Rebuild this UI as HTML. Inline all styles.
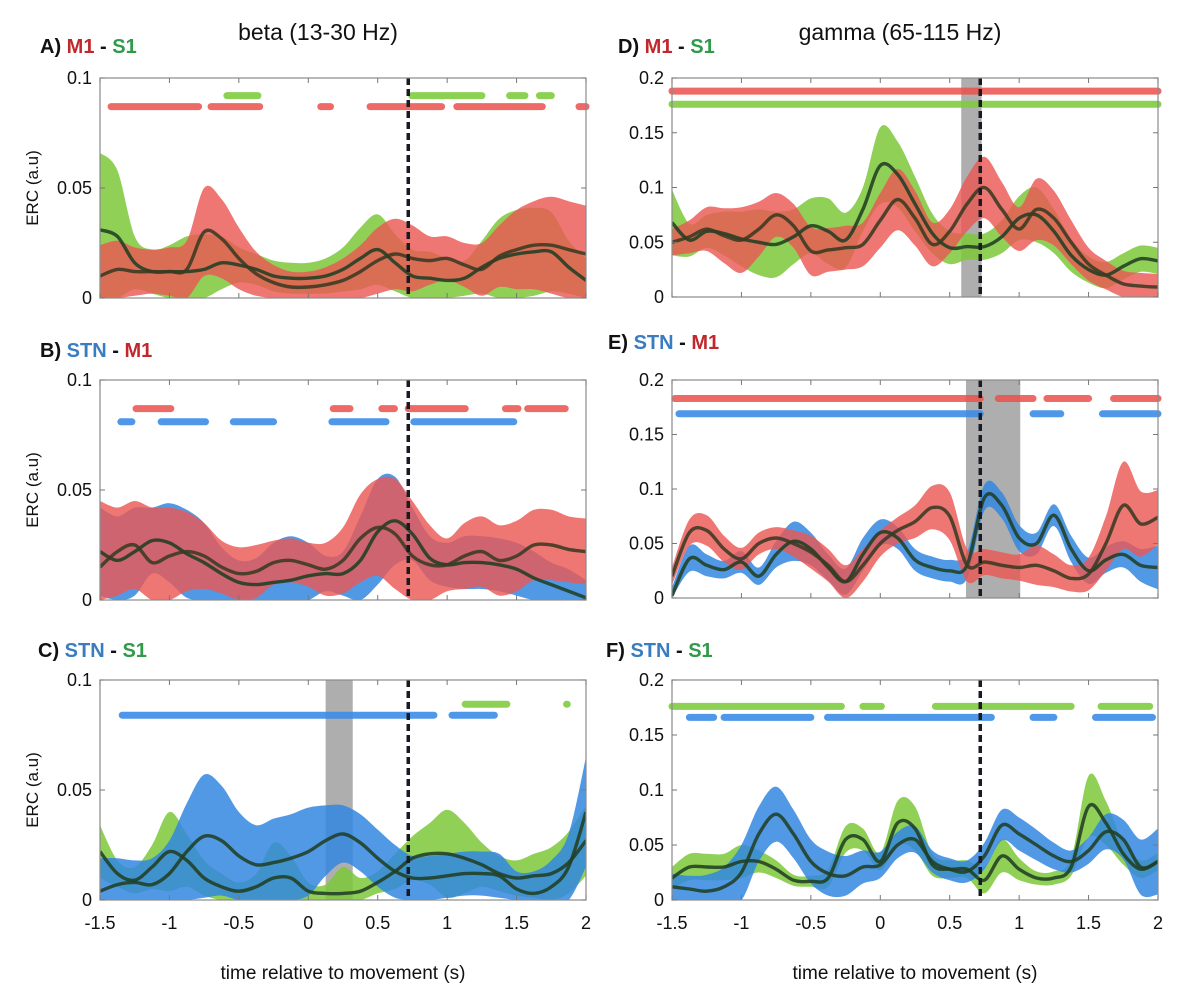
<!DOCTYPE html>
<html><head><meta charset="utf-8">
<style>
body{margin:0;background:#fff;width:1200px;height:999px;overflow:hidden;font-family:"Liberation Sans",sans-serif}
svg text{font-family:"Liberation Sans",sans-serif}
</style></head>
<body>
<svg id="fig" width="1200" height="999" viewBox="0 0 1200 999" xmlns="http://www.w3.org/2000/svg">
<text x="318" y="40" font-size="23" text-anchor="middle" fill="#111">beta (13-30 Hz)</text>
<text x="900" y="40" font-size="23" text-anchor="middle" fill="#111">gamma (65-115 Hz)</text>
<text x="40" y="53" font-size="20" font-weight="bold"><tspan fill="#111">A)  </tspan><tspan fill="#c0282d">M1</tspan><tspan fill="#111"> - </tspan><tspan fill="#2f9a4a">S1</tspan></text>
<text x="40" y="357" font-size="20" font-weight="bold"><tspan fill="#111">B)  </tspan><tspan fill="#3a7cc0">STN</tspan><tspan fill="#111"> - </tspan><tspan fill="#c0282d">M1</tspan></text>
<text x="38" y="657" font-size="20" font-weight="bold"><tspan fill="#111">C)  </tspan><tspan fill="#3a7cc0">STN</tspan><tspan fill="#111"> - </tspan><tspan fill="#2f9a4a">S1</tspan></text>
<text x="618" y="53" font-size="20" font-weight="bold"><tspan fill="#111">D)  </tspan><tspan fill="#c0282d">M1</tspan><tspan fill="#111"> - </tspan><tspan fill="#2f9a4a">S1</tspan></text>
<text x="608" y="349" font-size="20" font-weight="bold"><tspan fill="#111">E)  </tspan><tspan fill="#3a7cc0">STN</tspan><tspan fill="#111"> - </tspan><tspan fill="#c0282d">M1</tspan></text>
<text x="606" y="657" font-size="20" font-weight="bold"><tspan fill="#111">F)  </tspan><tspan fill="#3a7cc0">STN</tspan><tspan fill="#111"> - </tspan><tspan fill="#2f9a4a">S1</tspan></text>
<text x="343" y="979" font-size="19" text-anchor="middle" fill="#111">time relative to movement (s)</text>
<text x="915" y="979" font-size="19" text-anchor="middle" fill="#111">time relative to movement (s)</text>
</svg>
<script>
const times=[-1.5,-1.375,-1.25,-1.125,-1,-0.875,-0.75,-0.625,-0.5,-0.375,-0.25,-0.125,0,0.125,0.25,0.375,0.5,0.625,0.75,0.875,1,1.125,1.25,1.375,1.5,1.625,1.75,1.875,2];
const xTicks=[-1.5,-1,-0.5,0,0.5,1,1.5,2];
const xTickLabels=["-1.5","-1","-0.5","0","0.5","1","1.5","2"];
const betaYTicks=[0,0.05,0.1];
const betaYLabels=["0","0.05","0.1"];
const gammaYTicks=[0,0.05,0.1,0.15,0.2];
const gammaYLabels=["0","0.05","0.1","0.15","0.2"];
const movementTime=0.72;
// Panel A
const aRedMean=[0.010,0.013,0.012,0.012,0.012,0.013,0.030,0.027,0.018,0.011,0.007,0.005,0.005,0.006,0.008,0.012,0.017,0.020,0.018,0.017,0.018,0.015,0.013,0.019,0.022,0.024,0.024,0.022,0.020];
const aRedHalf=[0.014,0.013,0.011,0.010,0.011,0.013,0.020,0.018,0.014,0.010,0.008,0.007,0.007,0.008,0.010,0.012,0.015,0.016,0.015,0.011,0.010,0.010,0.012,0.014,0.018,0.020,0.022,0.022,0.022];
const aGreenMean=[0.031,0.028,0.016,0.012,0.012,0.012,0.013,0.016,0.015,0.013,0.010,0.009,0.009,0.010,0.013,0.018,0.022,0.016,0.010,0.009,0.008,0.009,0.014,0.018,0.020,0.021,0.021,0.014,0.008];
const aGreenHalf=[0.035,0.030,0.012,0.010,0.012,0.016,0.016,0.012,0.008,0.007,0.007,0.007,0.007,0.008,0.010,0.014,0.016,0.013,0.012,0.012,0.010,0.008,0.012,0.018,0.020,0.020,0.018,0.012,0.010];
const aGreenSig=[[-0.586,-0.363],[0.745,1.25],[1.45,1.56],[1.665,1.75]];
const aRedSig=[[-1.42,-0.79],[-0.70,-0.35],[0.09,0.16],[0.445,0.96],[1.07,1.685],[1.95,2.0]];
// Panel B
const bBlueMean=[0.022,0.018,0.022,0.027,0.026,0.021,0.017,0.012,0.008,0.007,0.008,0.009,0.011,0.012,0.012,0.018,0.031,0.036,0.030,0.019,0.016,0.017,0.017,0.016,0.014,0.010,0.007,0.004,0.001];
const bBlueHalf=[0.020,0.020,0.020,0.015,0.018,0.020,0.018,0.012,0.010,0.012,0.018,0.020,0.015,0.008,0.010,0.020,0.024,0.020,0.012,0.010,0.010,0.012,0.012,0.012,0.012,0.012,0.010,0.010,0.008];
const bRedMean=[0.015,0.022,0.025,0.017,0.020,0.022,0.020,0.015,0.012,0.013,0.017,0.018,0.016,0.014,0.018,0.028,0.033,0.030,0.020,0.016,0.016,0.020,0.022,0.018,0.020,0.025,0.025,0.023,0.022];
const bRedHalf=[0.030,0.020,0.020,0.025,0.022,0.018,0.015,0.012,0.012,0.012,0.010,0.010,0.010,0.012,0.015,0.020,0.022,0.025,0.025,0.018,0.012,0.015,0.016,0.016,0.016,0.016,0.016,0.015,0.015];
const bRedSig=[[-1.24,-0.99],[0.18,0.30],[0.53,0.62],[0.72,1.13],[1.42,1.51],[1.58,1.85]];
const bBlueSig=[[-1.35,-1.27],[-1.06,-0.74],[-0.54,-0.25],[0.17,0.56],[0.76,1.48]];
// Panel C
const cBlueMean=[0.004,0.007,0.008,0.007,0.012,0.022,0.029,0.027,0.020,0.016,0.017,0.019,0.022,0.027,0.030,0.026,0.019,0.013,0.010,0.010,0.011,0.012,0.012,0.011,0.005,0.003,0.006,0.015,0.040];
const cBlueHalf=[0.015,0.012,0.010,0.012,0.015,0.022,0.028,0.025,0.020,0.018,0.020,0.020,0.020,0.016,0.013,0.013,0.013,0.012,0.010,0.010,0.010,0.010,0.010,0.010,0.008,0.010,0.012,0.015,0.025];
const cGreenMean=[0.022,0.012,0.009,0.015,0.022,0.018,0.010,0.006,0.004,0.006,0.010,0.010,0.004,0.003,0.003,0.004,0.008,0.013,0.019,0.021,0.021,0.019,0.016,0.012,0.010,0.011,0.012,0.017,0.027];
const cGreenHalf=[0.012,0.006,0.006,0.010,0.018,0.012,0.008,0.006,0.004,0.006,0.016,0.010,0.004,0.004,0.012,0.006,0.005,0.008,0.010,0.014,0.020,0.016,0.010,0.008,0.008,0.010,0.012,0.014,0.016];
const cBlueSig=[[-1.34,0.905],[1.035,1.34]];
const cGreenSig=[[1.13,1.43],[1.86,1.865]];
const cShade=[0.125,0.32];
// Panel D
const dGreenMean=[0.068,0.052,0.060,0.058,0.053,0.050,0.048,0.055,0.065,0.060,0.052,0.080,0.120,0.112,0.085,0.058,0.045,0.046,0.046,0.055,0.072,0.075,0.060,0.038,0.025,0.020,0.028,0.035,0.033];
const dGreenHalf=[0.030,0.015,0.015,0.020,0.025,0.030,0.030,0.025,0.025,0.030,0.025,0.020,0.035,0.030,0.025,0.018,0.015,0.012,0.012,0.015,0.020,0.025,0.020,0.015,0.012,0.012,0.012,0.012,0.012];
const dRedMean=[0.050,0.055,0.062,0.056,0.052,0.062,0.075,0.065,0.042,0.043,0.045,0.048,0.070,0.089,0.072,0.048,0.060,0.085,0.100,0.080,0.062,0.080,0.072,0.050,0.030,0.020,0.012,0.010,0.009];
const dRedHalf=[0.012,0.015,0.020,0.025,0.030,0.025,0.020,0.020,0.022,0.020,0.020,0.020,0.025,0.028,0.025,0.020,0.020,0.025,0.028,0.025,0.020,0.028,0.025,0.020,0.015,0.013,0.012,0.012,0.012];
const dRedSig=[[-1.5,2.0]];
const dGreenSig=[[-1.5,2.0]];
const dShade=[0.583,0.73];
// Panel E
const eBlueMean=[0.002,0.036,0.030,0.026,0.033,0.020,0.040,0.052,0.045,0.028,0.015,0.040,0.060,0.055,0.035,0.028,0.025,0.030,0.092,0.085,0.055,0.050,0.076,0.045,0.025,0.035,0.040,0.030,0.028];
const eBlueHalf=[0.008,0.012,0.010,0.008,0.010,0.008,0.012,0.018,0.015,0.012,0.012,0.015,0.012,0.010,0.010,0.010,0.010,0.012,0.012,0.012,0.012,0.010,0.010,0.012,0.012,0.012,0.012,0.015,0.020];
const eRedMean=[0.020,0.060,0.062,0.045,0.036,0.050,0.055,0.050,0.042,0.030,0.015,0.030,0.050,0.062,0.070,0.083,0.075,0.030,0.033,0.030,0.028,0.030,0.025,0.018,0.022,0.050,0.085,0.068,0.074];
const eRedHalf=[0.008,0.012,0.014,0.012,0.010,0.010,0.010,0.012,0.015,0.015,0.015,0.015,0.012,0.012,0.015,0.020,0.022,0.015,0.012,0.012,0.012,0.018,0.015,0.012,0.015,0.025,0.040,0.030,0.025];
const eRedSig=[[-1.48,0.72],[0.85,1.1],[1.2,1.5],[1.68,2.0]];
const eBlueSig=[[-1.45,0.72],[1.1,1.3],[1.6,2.0]];
const eShade=[0.617,1.008];
// Panel F
const fGreenMean=[0.020,0.030,0.030,0.030,0.035,0.035,0.028,0.018,0.017,0.020,0.055,0.055,0.035,0.070,0.065,0.032,0.028,0.028,0.018,0.040,0.028,0.020,0.020,0.030,0.085,0.070,0.042,0.028,0.035];
const fGreenHalf=[0.010,0.012,0.012,0.012,0.015,0.010,0.008,0.005,0.005,0.008,0.012,0.010,0.008,0.020,0.020,0.010,0.008,0.008,0.012,0.015,0.010,0.006,0.006,0.008,0.028,0.020,0.010,0.008,0.008];
const fBlueMean=[0.012,0.010,0.008,0.012,0.025,0.060,0.078,0.060,0.035,0.024,0.022,0.030,0.032,0.050,0.055,0.035,0.028,0.026,0.040,0.068,0.060,0.050,0.040,0.035,0.045,0.062,0.055,0.030,0.035];
const fBlueHalf=[0.012,0.012,0.015,0.018,0.025,0.025,0.025,0.022,0.020,0.020,0.018,0.015,0.012,0.012,0.012,0.010,0.010,0.010,0.012,0.014,0.015,0.014,0.012,0.010,0.012,0.016,0.018,0.025,0.030];
const fGreenSig=[[-1.5,-0.28],[-0.125,0.008],[0.397,1.375],[1.59,1.94]];
const fBlueSig=[[-1.375,-1.2],[-1.125,-0.5],[-0.38,0.8],[1.1,1.25],[1.55,1.96]];

const NS="http://www.w3.org/2000/svg";
const svg=document.getElementById('fig');
const COL={red:"rgba(234,88,84,0.82)",green:"rgba(124,200,58,0.85)",blue:"rgba(50,135,225,0.85)"};
const SIGCOL={red:"rgba(234,80,76,0.85)",green:"rgba(128,204,64,0.9)",blue:"rgba(60,140,230,0.9)"};
const LINECOL={red:"#3a3a22",green:"#203f24",blue:"#203f24"};
function mk(tag,attrs,parent){const e=document.createElementNS(NS,tag);for(const k in attrs)e.setAttribute(k,attrs[k]);(parent||svg).appendChild(e);return e;}
function smooth(pts){let d="M"+pts[0][0].toFixed(1)+","+pts[0][1].toFixed(1);for(let i=0;i<pts.length-1;i++){const p0=pts[Math.max(0,i-1)],p1=pts[i],p2=pts[i+1],p3=pts[Math.min(pts.length-1,i+2)];const c1=[p1[0]+(p2[0]-p0[0])/6,p1[1]+(p2[1]-p0[1])/6],c2=[p2[0]-(p3[0]-p1[0])/6,p2[1]-(p3[1]-p1[1])/6];d+="C"+c1[0].toFixed(1)+","+c1[1].toFixed(1)+" "+c2[0].toFixed(1)+","+c2[1].toFixed(1)+" "+p2[0].toFixed(1)+","+p2[1].toFixed(1);}return d;}
function smoothNoM(pts){return smooth(pts).replace(/^M[^C]*/,"L"+pts[0][0].toFixed(1)+","+pts[0][1].toFixed(1));}
let clipId=0;
function panel(p){
  const x=t=>p.x0+(t+1.5)/3.5*(p.x1-p.x0);
  const y=v=>p.y1-v/p.ymax*(p.y1-p.y0);
  const g=mk('g',{});
  
  
  const cid="clip"+(clipId++);
  const cp=mk('clipPath',{id:cid},g);mk('rect',{x:p.x0,y:p.y0,width:p.x1-p.x0,height:p.y1-p.y0},cp);
  if(p.shade){const r=mk('rect',{x:x(p.shade[0]),y:p.y0,width:x(p.shade[1])-x(p.shade[0]),height:p.y1-p.y0,fill:"rgba(120,120,120,0.6)"},g);
    
    }
  const pg=mk('g',{'clip-path':'url(#'+cid+')'},g);
  p.series.forEach(s=>{
    const up=times.map((t,i)=>[x(t),y(Math.min(p.ymax,s.mean[i]+s.half[i]))]);
    const lo=times.map((t,i)=>[x(t),y(Math.max(0,s.mean[i]-s.half[i]))]).reverse();
    const band=mk('path',{d:smooth(up)+smoothNoM(lo)+"Z",fill:COL[s.c]},pg);
    
    
  });
  p.series.forEach(s=>{
    const pts=times.map((t,i)=>[x(t),y(s.mean[i])]);
    const ln=mk('path',{d:smooth(pts),fill:"none",stroke:LINECOL[s.c],'stroke-width':3.4,'stroke-opacity':0.88},pg);
    
    
  });
  p.sig.forEach(sg=>{sg.segs.forEach(seg=>{
    const l=mk('line',{x1:x(seg[0]),x2:x(seg[1]),y1:y(sg.v),y2:y(sg.v),stroke:SIGCOL[sg.c],'stroke-width':7,'stroke-linecap':'round'},g);
    
    });});
  const dl=mk('line',{x1:x(movementTime),x2:x(movementTime),y1:p.y0,y2:p.y1,stroke:"#1a1a22",'stroke-width':3.5,'stroke-dasharray':'7,4'},g);
  
  
  const box=mk('rect',{x:p.x0,y:p.y0,width:p.x1-p.x0,height:p.y1-p.y0,fill:"none",stroke:"#8a8a8a",'stroke-width':1.2},g);
  
  
  xTicks.forEach((t,i)=>{mk('line',{x1:x(t),x2:x(t),y1:p.y1,y2:p.y1-5,stroke:"#777"},g);mk('line',{x1:x(t),x2:x(t),y1:p.y0,y2:p.y0+5,stroke:"#777"},g);
    if(p.xlabels){const tx=mk('text',{x:x(t),y:p.y1+29,'font-size':18,'text-anchor':'middle',fill:'#111'},g);tx.textContent=xTickLabels[i];
      
      }});
  p.yt.forEach((v,i)=>{mk('line',{x1:p.x0,x2:p.x0+5,y1:y(v),y2:y(v),stroke:"#777"},g);mk('line',{x1:p.x1,x2:p.x1-5,y1:y(v),y2:y(v),stroke:"#777"},g);
    const tx=mk('text',{x:p.x0-8,y:y(v)+6,'font-size':18,'text-anchor':'end',fill:'#111'},g);tx.textContent=p.yl[i];
    
    });
  if(p.ylabel){const tx=mk('text',{x:0,y:0,'font-size':17,'text-anchor':'middle',fill:'#111',transform:'translate('+(p.x0-62)+','+((p.y0+p.y1)/2)+') rotate(-90)'},g);tx.textContent="ERC (a.u)";
    
    }
}
panel({name:'panel-a',x0:100,x1:586,y0:78,y1:298,ymax:0.1,yt:betaYTicks,yl:betaYLabels,ylabel:true,
  series:[{c:'green',mean:aGreenMean,half:aGreenHalf},{c:'red',mean:aRedMean,half:aRedHalf}],
  sig:[{c:'green',v:0.092,segs:aGreenSig},{c:'red',v:0.087,segs:aRedSig}]});
panel({name:'panel-b',x0:100,x1:586,y0:380,y1:600,ymax:0.1,yt:betaYTicks,yl:betaYLabels,ylabel:true,
  series:[{c:'blue',mean:bBlueMean,half:bBlueHalf},{c:'red',mean:bRedMean,half:bRedHalf}],
  sig:[{c:'red',v:0.087,segs:bRedSig},{c:'blue',v:0.081,segs:bBlueSig}]});
panel({name:'panel-c',x0:100,x1:586,y0:680,y1:900,ymax:0.1,yt:betaYTicks,yl:betaYLabels,ylabel:true,xlabels:true,shade:cShade,
  series:[{c:'green',mean:cGreenMean,half:cGreenHalf},{c:'blue',mean:cBlueMean,half:cBlueHalf}],
  sig:[{c:'green',v:0.089,segs:cGreenSig},{c:'blue',v:0.084,segs:cBlueSig}]});
panel({name:'panel-d',x0:672,x1:1158,y0:78,y1:297,ymax:0.2,yt:gammaYTicks,yl:gammaYLabels,shade:dShade,
  series:[{c:'green',mean:dGreenMean,half:dGreenHalf},{c:'red',mean:dRedMean,half:dRedHalf}],
  sig:[{c:'red',v:0.188,segs:dRedSig},{c:'green',v:0.176,segs:dGreenSig}]});
panel({name:'panel-e',x0:672,x1:1158,y0:380,y1:598,ymax:0.2,yt:gammaYTicks,yl:gammaYLabels,shade:eShade,
  series:[{c:'blue',mean:eBlueMean,half:eBlueHalf},{c:'red',mean:eRedMean,half:eRedHalf}],
  sig:[{c:'red',v:0.183,segs:eRedSig},{c:'blue',v:0.169,segs:eBlueSig}]});
panel({name:'panel-f',x0:672,x1:1158,y0:680,y1:900,ymax:0.2,yt:gammaYTicks,yl:gammaYLabels,xlabels:true,
  series:[{c:'green',mean:fGreenMean,half:fGreenHalf},{c:'blue',mean:fBlueMean,half:fBlueHalf}],
  sig:[{c:'green',v:0.176,segs:fGreenSig},{c:'blue',v:0.166,segs:fBlueSig}]});
</script>
</body></html>
